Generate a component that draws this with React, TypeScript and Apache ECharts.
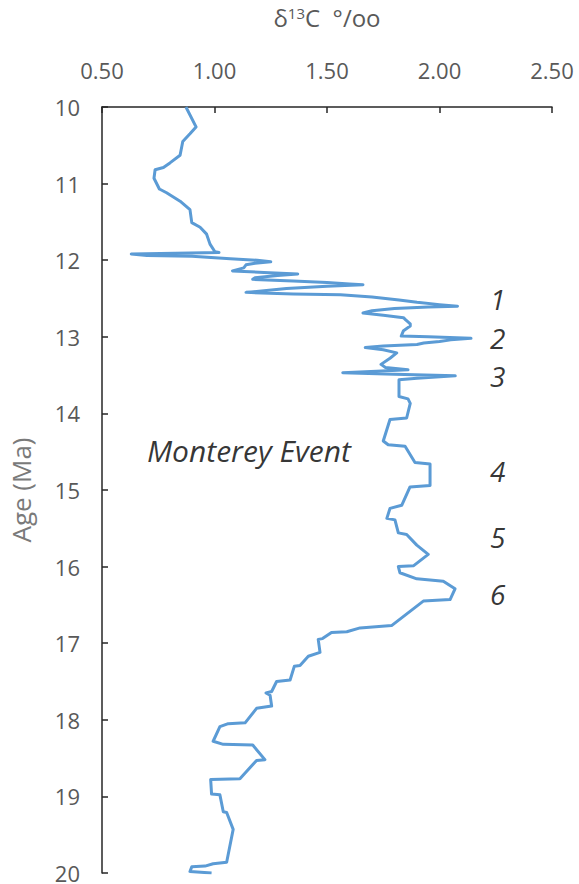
import React, { useEffect, useRef } from "react";
import * as echarts from "echarts";

const ages = [
  10.0, 10.26, 10.35, 10.45, 10.63, 10.73, 10.79, 10.82, 10.93, 11.07, 11.12, 11.23, 11.34, 11.51, 11.57, 11.66, 11.79, 11.89,
  11.9, 11.92, 11.94, 11.95, 11.98, 12.0, 12.02, 12.04, 12.06, 12.1, 12.14, 12.16, 12.18, 12.2, 12.23, 12.25, 12.27, 12.29,
  12.31, 12.32, 12.34, 12.37, 12.4, 12.42, 12.44, 12.45, 12.48, 12.52, 12.55, 12.58, 12.6, 12.61, 12.63, 12.66, 12.69, 12.72,
  12.75, 12.78, 12.83, 12.86, 12.92, 12.99, 13.0, 13.02, 13.04, 13.06, 13.08, 13.1, 13.12, 13.14, 13.17, 13.21, 13.28, 13.36,
  13.4, 13.43, 13.45, 13.47, 13.49, 13.51, 13.54, 13.56, 13.78, 13.81, 13.87, 14.06, 14.08, 14.36, 14.41, 14.43, 14.64, 14.66,
  14.94, 14.96, 15.2, 15.24, 15.37, 15.39, 15.56, 15.58, 15.72, 15.84, 15.99, 16.0, 16.08, 16.16, 16.19, 16.29, 16.43, 16.45,
  16.77, 16.8, 16.85, 16.86, 16.94, 16.95, 17.12, 17.17, 17.29, 17.3, 17.48, 17.5, 17.63, 17.65, 17.68, 17.82, 17.85, 18.04,
  18.05, 18.09, 18.28, 18.32, 18.33, 18.52, 18.53, 18.77, 18.78, 18.97, 18.98, 19.2, 19.21, 19.43, 19.86, 19.88, 19.91, 19.92,
  19.98, 20.0,
];

const d13c = [
  0.873, 0.918, 0.891, 0.859, 0.847, 0.802, 0.773, 0.736, 0.731, 0.755, 0.787, 0.847, 0.891, 0.899, 0.936, 0.965, 0.98, 1.002,
  1.02, 0.63, 0.7, 0.9, 1.07, 1.19, 1.25, 1.18, 1.14, 1.13, 1.08, 1.22, 1.37, 1.28, 1.18, 1.17, 1.35, 1.5,
  1.6, 1.66, 1.5, 1.32, 1.22, 1.14, 1.35, 1.56, 1.7, 1.82, 1.9, 2.0, 2.08, 1.95, 1.8, 1.7, 1.66, 1.75,
  1.84, 1.85, 1.87, 1.87, 1.84, 1.83, 1.95, 2.14, 2.05, 2.0, 1.93, 1.9, 1.75, 1.67, 1.75, 1.81, 1.78, 1.74,
  1.76, 1.86, 1.72, 1.57, 1.8, 2.07, 1.9, 1.82, 1.82, 1.86, 1.87, 1.854, 1.78, 1.75, 1.772, 1.847, 1.891, 1.958,
  1.958, 1.869, 1.832, 1.78, 1.766, 1.802, 1.817, 1.854, 1.899, 1.95, 1.884, 1.817, 1.824, 1.899, 2.017, 2.069, 2.047, 1.928,
  1.787, 1.647, 1.588, 1.52, 1.48, 1.461, 1.469, 1.417, 1.38, 1.355, 1.336, 1.276, 1.254, 1.229, 1.247, 1.254, 1.187, 1.136,
  1.061, 1.024, 0.994, 1.039, 1.17, 1.224, 1.187, 1.113, 0.983, 0.987, 1.024, 1.039, 1.054, 1.083, 1.054, 0.994, 0.958, 0.899,
  0.891, 0.987,
];

const annotationTexts = ["Monterey Event", "1", "2", "3", "4", "5", "6"];
const annotationX = [0.7, 2.224, 2.224, 2.224, 2.224, 2.224, 2.224];
const annotationAge = [14.48, 12.51, 13.02, 13.51, 14.75, 15.62, 16.36];
const annotationSize = [30, 28, 28, 28, 28, 28, 28];

const xTicks = { min: 0.5, max: 2.5, interval: 0.5 };
const yTicks = { min: 10, max: 20, interval: 1 };

export default function App() {
  const ref = useRef<HTMLDivElement>(null);
  useEffect(() => {
    document.body.style.margin = "0";
    const chart = echarts.init(ref.current!, undefined, { renderer: "svg" });
    const lineData = ages.map((a, i) => [d13c[i], a]);
    const font = "'Open Sans', sans-serif";
    const annData = annotationTexts.map((t, i) => ({
      value: [annotationX[i], annotationAge[i]],
      name: t,
      label: { fontSize: annotationSize[i] },
    }));
    const axisColor = "#262626";
    const labelColor = "#595959";
    chart.setOption({
      animation: false,
      grid: { left: 102, top: 98, right: 27, bottom: 10, containLabel: false },
      xAxis: {
        type: "value",
        position: "top",
        min: xTicks.min,
        max: xTicks.max,
        interval: xTicks.interval,
        name: "{d|δ}{s|13}{d|C  °/oo}",
        nameLocation: "middle",
        nameGap: 78,
        nameTextStyle: {
          rich: {
            d: { fontSize: 24, color: labelColor, fontFamily: font },
            s: { fontSize: 15, color: labelColor, fontFamily: font, verticalAlign: "top", padding: [0, 0, 9, 0] },
          },
        },
        axisLine: { show: true, onZero: false, lineStyle: { color: axisColor, width: 1.5 } },
        axisTick: { show: true, inside: true, length: 6, lineStyle: { color: axisColor, width: 1.5 } },
        splitLine: { show: false },
        axisLabel: {
          color: labelColor,
          fontSize: 22,
          fontFamily: font,
          margin: 26,
          formatter: (v: number) => v.toFixed(2),
        },
      },
      yAxis: {
        type: "value",
        inverse: true,
        min: yTicks.min,
        max: yTicks.max,
        interval: yTicks.interval,
        name: "Age (Ma)",
        nameLocation: "middle",
        nameGap: 68,
        nameTextStyle: { color: "#7a7a7a", fontSize: 26, fontFamily: font },
        axisLine: { show: true, onZero: false, lineStyle: { color: axisColor, width: 1.5 } },
        axisTick: { show: true, inside: true, length: 6, lineStyle: { color: axisColor, width: 1.5 } },
        splitLine: { show: false },
        axisLabel: { color: labelColor, fontSize: 22, fontFamily: font, margin: 22 },
      },
      series: [
        {
          type: "line",
          data: lineData,
          showSymbol: false,
          symbol: "none",
          lineStyle: { color: "#5B9BD5", width: 3, join: "round" },
          z: 2,
        },
        {
          type: "scatter",
          data: annData,
          symbolSize: 0,
          silent: true,
          label: {
            show: true,
            position: [0, 0],
            align: "left",
            verticalAlign: "middle",
            formatter: (p: any) => p.name,
            color: "#000",
            fontStyle: "italic",
            fontSize: 28,
            fontFamily: font,
          },
          z: 3,
        },
      ],
    });
    return () => chart.dispose();
  }, []);
  return <div ref={ref} style={{ width: 579, height: 884 }} />;
}
